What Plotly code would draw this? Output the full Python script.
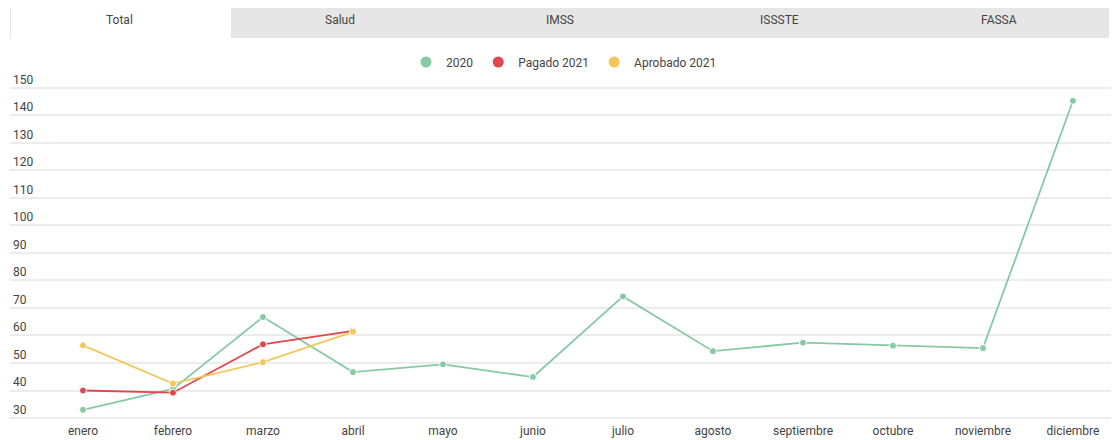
import plotly.graph_objects as go

meses = ['enero', 'febrero', 'marzo', 'abril', 'mayo', 'junio', 'julio',
         'agosto', 'septiembre', 'octubre', 'noviembre', 'diciembre']

valores_2020 = [33.0, 40.6, 66.7, 46.7, 49.5, 44.9, 74.2, 54.3, 57.4, 56.3, 55.4, 145.3]
pagado_2021 = [40.0, 39.2, 56.8, 61.7]
aprobado_2021 = [56.4, 42.5, 50.3, 61.3]

tabs = ['Total', 'Salud', 'IMSS', 'ISSSTE', 'FASSA']
y_ticks = [30, 40, 50, 60, 70, 80, 90, 100, 110, 120, 130, 140, 150]

verde = '#88c9a5'
rojo = '#e0474c'
amarillo = '#f2c85b'

# the page body has an 8px margin, so the figure is drawn 8px in
W, H = 1111, 432
L, R, T, B = 2, 4, 62, 18
pw, ph = W - L - R, H - T - B


def px_x(x):
    return (x - L) / pw


def px_y(y):
    return (H - B - y) / ph


fig = go.Figure()

series = [
    ('2020', valores_2020, verde),
    ('Pagado 2021', pagado_2021, rojo),
    ('Aprobado 2021', aprobado_2021, amarillo),
]

for nombre, vals, color in series:
    fig.add_trace(go.Scatter(
        x=meses[:len(vals)], y=vals, mode='lines+markers', name=nombre,
        line=dict(color=color, width=1.8),
        marker=dict(color=color, size=7, line=dict(color='white', width=1)),
        showlegend=False, hoverinfo='x+y',
    ))
    # legend entry: just a dot
    fig.add_trace(go.Scatter(
        x=[None], y=[None], mode='markers', name=nombre,
        marker=dict(color=color, size=11),
    ))

# tab bar
shapes = [dict(type='rect', xref='paper', yref='paper',
               x0=px_x(2), x1=px_x(1101), y0=px_y(30), y1=px_y(-4),
               fillcolor='#e6e6e6', line=dict(width=0), layer='below')]
shapes.append(dict(type='rect', xref='paper', yref='paper',
                   x0=px_x(3), x1=px_x(223), y0=px_y(31), y1=px_y(-2),
                   fillcolor='white', line=dict(width=0), layer='below'))
tab_w = (1101 - 2) / len(tabs)
annotations = []
for i, t in enumerate(tabs):
    annotations.append(dict(
        text=t, xref='paper', yref='paper', x=px_x(2 + tab_w * (i + 0.5)), y=px_y(12),
        showarrow=False, xanchor='center', yanchor='middle',
        font=dict(size=12, color='#444'),
    ))

fig.update_layout(
    width=W, height=H,
    margin=dict(l=L, r=R, t=T, b=B),
    paper_bgcolor='white', plot_bgcolor='white',
    font=dict(family='Roboto, sans-serif', size=12, color='#555'),
    shapes=shapes, annotations=annotations,
    legend=dict(orientation='h', x=px_x(556), xanchor='center', y=px_y(54), yanchor='middle',
                font=dict(size=12, color='#444'), itemwidth=30, tracegroupgap=0,
                bgcolor='rgba(0,0,0,0)'),
    xaxis=dict(
        type='category', categoryorder='array', categoryarray=meses,
        range=[-0.811, 11.467], showgrid=False, zeroline=False, showline=False,
        ticks='', tickfont=dict(size=12, color='#444'),
    ),
    yaxis=dict(
        range=[28.55, 156.5], tickvals=y_ticks, showgrid=True, gridcolor='#ececec', gridwidth=1.5,
        zeroline=False, showline=False, ticks='',
        ticklabelposition='inside top', tickfont=dict(size=12, color='#444'),
    ),
)

fig.write_html("out.html")
